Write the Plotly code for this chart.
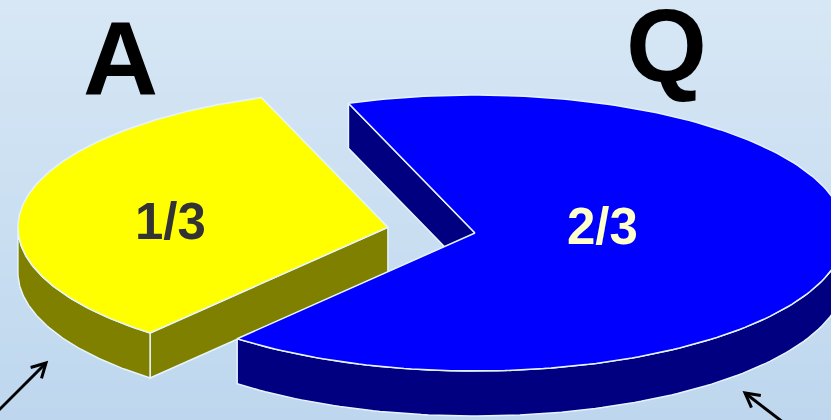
import numpy as np
import plotly.graph_objects as go

# ---- data ----
slice_names = ["A", "Q"]
slice_values = [1, 2]
slice_labels = ["1/3", "2/3"]
slice_explode = [0.239, 0.0]

# ---- style ----
top_colors = ["#FFFF00", "#0000FF"]
side_colors = ["#808000", "#000080"]
label_colors = ["#333333", "#FFFFCC"]
label_pos = [(170, 221), (602, 226)]
name_pos = [(120, 58), (666, 46)]

W, H = 831, 420
cx, cy, rx, ry, depth = 475.0, 233.0, 370.0, 138.0, 45.0
start_deg = 110.0
edge = dict(color="#E6F4FF", width=1.5)

fig = go.Figure()

# background gradient
fig.add_trace(go.Heatmap(
    x=[0, W], y=[0, H], z=[[0, 0], [1, 1]], zsmooth="best",
    colorscale=[[0, "#D7E7F5"], [1, "#BED7EE"]], showscale=False, hoverinfo="skip"))


def pt(t, off, r=1.0, dz=0.0):
    return (cx + off[0] + rx * r * np.cos(t), cy + off[1] - ry * r * np.sin(t) + dz)


def poly(xs, ys, color):
    fig.add_trace(go.Scatter(x=list(xs) + [xs[0]], y=list(ys) + [ys[0]], mode="lines",
                             fill="toself", fillcolor=color, line=edge,
                             hoverinfo="skip", showlegend=False))


total = float(sum(slice_values))
ang = np.deg2rad(start_deg)
for i, v in enumerate(slice_values):
    t0 = ang
    t1 = ang + 2 * np.pi * v / total
    ang = t1
    mid = (t0 + t1) / 2
    e = slice_explode[i]
    off = (rx * e * np.cos(mid), -ry * e * np.sin(mid))
    side = side_colors[i]

    # radial faces
    for t, vis in ((t0, np.cos(t0) > 0), (t1, np.cos(t1) < 0)):
        if vis:
            c = pt(t, off, r=0.0)
            p = pt(t, off)
            poly([c[0], p[0], p[0], c[0]], [c[1], p[1], p[1] + depth, c[1] + depth], side)

    # outer curved side (front half only)
    k0 = np.floor(t0 / (2 * np.pi))
    for k in (k0 - 1, k0, k0 + 1):
        a = max(t0, np.pi + 2 * np.pi * k)
        b = min(t1, 2 * np.pi + 2 * np.pi * k)
        if b > a:
            ts = np.linspace(a, b, 120)
            xs = [pt(t, off)[0] for t in ts]
            ys = [pt(t, off)[1] for t in ts]
            xb = xs[::-1]
            yb = [y + depth for y in ys[::-1]]
            poly(xs + xb, ys + yb, side)

    # top face
    ts = np.linspace(t0, t1, 200)
    c = pt(0, off, r=0.0)
    xs = [c[0]] + [pt(t, off)[0] for t in ts]
    ys = [c[1]] + [pt(t, off)[1] for t in ts]
    poly(xs, ys, top_colors[i])

annotations = []
for i in range(len(slice_values)):
    annotations.append(dict(x=label_pos[i][0], y=label_pos[i][1], text="<b>%s</b>" % slice_labels[i],
                            showarrow=False, xanchor="center", yanchor="middle",
                            font=dict(family="Liberation Sans", size=51, color=label_colors[i])))
    annotations.append(dict(x=name_pos[i][0], y=name_pos[i][1], text="<b>%s</b>" % slice_names[i],
                            showarrow=False, xanchor="center", yanchor="middle",
                            font=dict(family="Liberation Sans", size=104, color="#000000")))

shapes = []
for tip, tail in (((46, 363), (-14, 423)), ((745, 393), (788, 426))):
    shapes.append(dict(type="line", x0=tail[0], y0=tail[1], x1=tip[0], y1=tip[1],
                       line=dict(color="black", width=3)))
    d = np.arctan2(tail[1] - tip[1], tail[0] - tip[0])
    L = 16
    p1 = (tip[0] + L * np.cos(d + 0.5), tip[1] + L * np.sin(d + 0.5))
    p2 = (tip[0] + L * np.cos(d - 0.5), tip[1] + L * np.sin(d - 0.5))
    shapes.append(dict(type="path",
                       path="M %f %f L %f %f L %f %f" % (p1[0], p1[1], tip[0], tip[1], p2[0], p2[1]),
                       line=dict(color="black", width=3)))

fig.update_layout(
    width=W, height=H, margin=dict(l=0, r=0, t=0, b=0),
    paper_bgcolor="#D0E3F3", plot_bgcolor="#D0E3F3",
    xaxis=dict(range=[0, W], visible=False, fixedrange=True),
    yaxis=dict(range=[H, 0], visible=False, fixedrange=True),
    annotations=annotations, shapes=shapes, showlegend=False,
)

fig.write_html("out.html", config={"displayModeBar": False},
               post_script="document.body.style.margin='0';document.body.style.padding='0';"
                           "document.body.style.overflow='hidden';")
